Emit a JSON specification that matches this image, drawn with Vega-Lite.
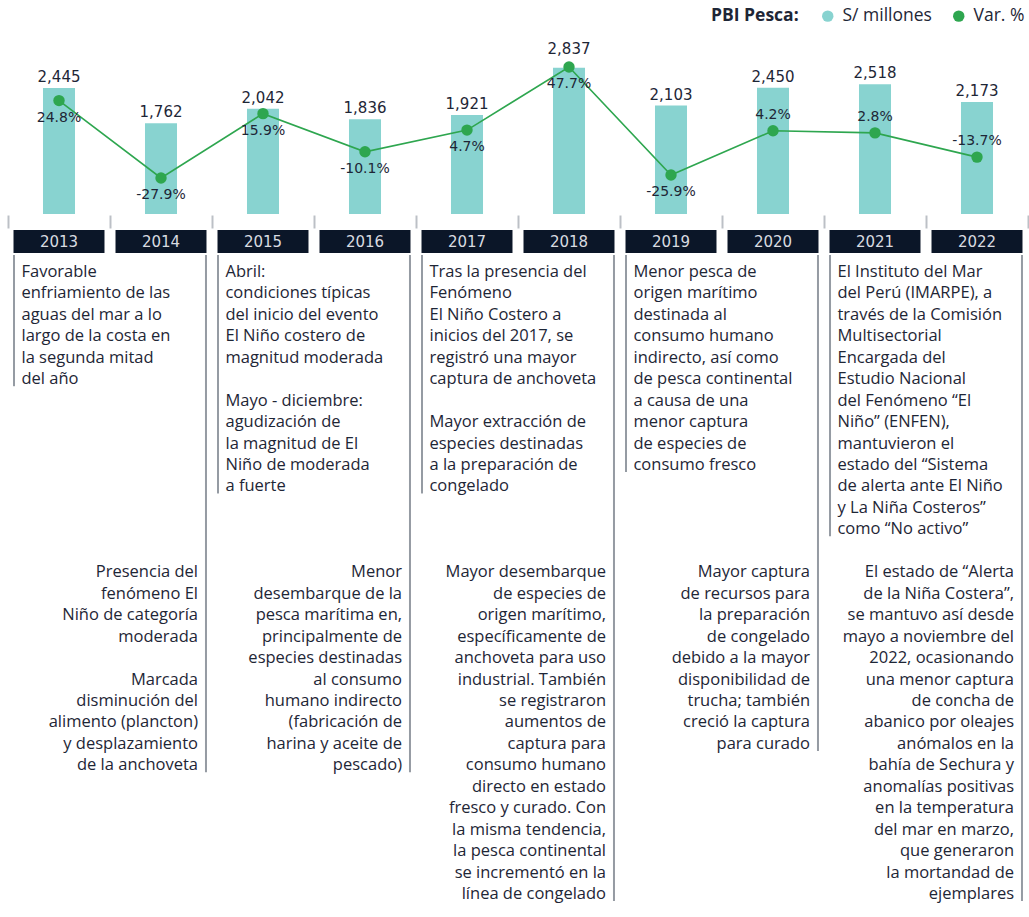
{
  "$schema": "https://vega.github.io/schema/vega-lite/v6.json",
  "padding": {"left": 7, "top": 0, "right": 0, "bottom": 0},
  "background": "white",
  "spacing": 1,
  "config": {"view": {"stroke": null}, "axis": {"grid": false}},
  "datasets": {
    "pbi": [
      {"year": "2013", "value": 2445, "pct": 24.8},
      {"year": "2014", "value": 1762, "pct": -27.9},
      {"year": "2015", "value": 2042, "pct": 15.9},
      {"year": "2016", "value": 1836, "pct": -10.1},
      {"year": "2017", "value": 1921, "pct": 4.7},
      {"year": "2018", "value": 2837, "pct": 47.7},
      {"year": "2019", "value": 2103, "pct": -25.9},
      {"year": "2020", "value": 2450, "pct": 4.2},
      {"year": "2021", "value": 2518, "pct": 2.8},
      {"year": "2022", "value": 2173, "pct": -13.7}
    ],
    "notes": [
      {"year": "2013", "block": "upper", "line": 0, "text": "Favorable"},
      {"year": "2013", "block": "upper", "line": 1, "text": "enfriamiento de las"},
      {"year": "2013", "block": "upper", "line": 2, "text": "aguas del mar a lo"},
      {"year": "2013", "block": "upper", "line": 3, "text": "largo de la costa en"},
      {"year": "2013", "block": "upper", "line": 4, "text": "la segunda mitad"},
      {"year": "2013", "block": "upper", "line": 5, "text": "del año"},
      {"year": "2014", "block": "lower", "line": 0, "text": "Presencia del"},
      {"year": "2014", "block": "lower", "line": 1, "text": "fenómeno El"},
      {"year": "2014", "block": "lower", "line": 2, "text": "Niño de categoría"},
      {"year": "2014", "block": "lower", "line": 3, "text": "moderada"},
      {"year": "2014", "block": "lower", "line": 5, "text": "Marcada"},
      {"year": "2014", "block": "lower", "line": 6, "text": "disminución del"},
      {"year": "2014", "block": "lower", "line": 7, "text": "alimento (plancton)"},
      {"year": "2014", "block": "lower", "line": 8, "text": "y desplazamiento"},
      {"year": "2014", "block": "lower", "line": 9, "text": "de la anchoveta"},
      {"year": "2015", "block": "upper", "line": 0, "text": "Abril:"},
      {"year": "2015", "block": "upper", "line": 1, "text": "condiciones típicas"},
      {"year": "2015", "block": "upper", "line": 2, "text": "del inicio del evento"},
      {"year": "2015", "block": "upper", "line": 3, "text": "El Niño costero de"},
      {"year": "2015", "block": "upper", "line": 4, "text": "magnitud moderada"},
      {"year": "2015", "block": "upper", "line": 6, "text": "Mayo - diciembre:"},
      {"year": "2015", "block": "upper", "line": 7, "text": "agudización de"},
      {"year": "2015", "block": "upper", "line": 8, "text": "la magnitud de El"},
      {"year": "2015", "block": "upper", "line": 9, "text": "Niño de moderada"},
      {"year": "2015", "block": "upper", "line": 10, "text": "a fuerte"},
      {"year": "2016", "block": "lower", "line": 0, "text": "Menor"},
      {"year": "2016", "block": "lower", "line": 1, "text": "desembarque de la"},
      {"year": "2016", "block": "lower", "line": 2, "text": "pesca marítima en,"},
      {"year": "2016", "block": "lower", "line": 3, "text": "principalmente de"},
      {"year": "2016", "block": "lower", "line": 4, "text": "especies destinadas"},
      {"year": "2016", "block": "lower", "line": 5, "text": "al consumo"},
      {"year": "2016", "block": "lower", "line": 6, "text": "humano indirecto"},
      {"year": "2016", "block": "lower", "line": 7, "text": "(fabricación de"},
      {"year": "2016", "block": "lower", "line": 8, "text": "harina y aceite de"},
      {"year": "2016", "block": "lower", "line": 9, "text": "pescado)"},
      {"year": "2017", "block": "upper", "line": 0, "text": "Tras la presencia del"},
      {"year": "2017", "block": "upper", "line": 1, "text": "Fenómeno"},
      {"year": "2017", "block": "upper", "line": 2, "text": "El Niño Costero a"},
      {"year": "2017", "block": "upper", "line": 3, "text": "inicios del 2017, se"},
      {"year": "2017", "block": "upper", "line": 4, "text": "registró una mayor"},
      {"year": "2017", "block": "upper", "line": 5, "text": "captura de anchoveta"},
      {"year": "2017", "block": "upper", "line": 7, "text": "Mayor extracción de"},
      {"year": "2017", "block": "upper", "line": 8, "text": "especies destinadas"},
      {"year": "2017", "block": "upper", "line": 9, "text": "a la preparación de"},
      {"year": "2017", "block": "upper", "line": 10, "text": "congelado"},
      {"year": "2018", "block": "lower", "line": 0, "text": "Mayor desembarque"},
      {"year": "2018", "block": "lower", "line": 1, "text": "de especies de"},
      {"year": "2018", "block": "lower", "line": 2, "text": "origen marítimo,"},
      {"year": "2018", "block": "lower", "line": 3, "text": "específicamente de"},
      {"year": "2018", "block": "lower", "line": 4, "text": "anchoveta para uso"},
      {"year": "2018", "block": "lower", "line": 5, "text": "industrial. También"},
      {"year": "2018", "block": "lower", "line": 6, "text": "se registraron"},
      {"year": "2018", "block": "lower", "line": 7, "text": "aumentos de"},
      {"year": "2018", "block": "lower", "line": 8, "text": "captura para"},
      {"year": "2018", "block": "lower", "line": 9, "text": "consumo humano"},
      {"year": "2018", "block": "lower", "line": 10, "text": "directo en estado"},
      {"year": "2018", "block": "lower", "line": 11, "text": "fresco y curado. Con"},
      {"year": "2018", "block": "lower", "line": 12, "text": "la misma tendencia,"},
      {"year": "2018", "block": "lower", "line": 13, "text": "la pesca continental"},
      {"year": "2018", "block": "lower", "line": 14, "text": "se incrementó en la"},
      {"year": "2018", "block": "lower", "line": 15, "text": "línea de congelado"},
      {"year": "2019", "block": "upper", "line": 0, "text": "Menor pesca de"},
      {"year": "2019", "block": "upper", "line": 1, "text": "origen marítimo"},
      {"year": "2019", "block": "upper", "line": 2, "text": "destinada al"},
      {"year": "2019", "block": "upper", "line": 3, "text": "consumo humano"},
      {"year": "2019", "block": "upper", "line": 4, "text": "indirecto, así como"},
      {"year": "2019", "block": "upper", "line": 5, "text": "de pesca continental"},
      {"year": "2019", "block": "upper", "line": 6, "text": "a causa de una"},
      {"year": "2019", "block": "upper", "line": 7, "text": "menor captura"},
      {"year": "2019", "block": "upper", "line": 8, "text": "de especies de"},
      {"year": "2019", "block": "upper", "line": 9, "text": "consumo fresco"},
      {"year": "2020", "block": "lower", "line": 0, "text": "Mayor captura"},
      {"year": "2020", "block": "lower", "line": 1, "text": "de recursos para"},
      {"year": "2020", "block": "lower", "line": 2, "text": "la preparación"},
      {"year": "2020", "block": "lower", "line": 3, "text": "de congelado"},
      {"year": "2020", "block": "lower", "line": 4, "text": "debido a la mayor"},
      {"year": "2020", "block": "lower", "line": 5, "text": "disponibilidad de"},
      {"year": "2020", "block": "lower", "line": 6, "text": "trucha; también"},
      {"year": "2020", "block": "lower", "line": 7, "text": "creció la captura"},
      {"year": "2020", "block": "lower", "line": 8, "text": "para curado"},
      {"year": "2021", "block": "upper", "line": 0, "text": "El Instituto del Mar"},
      {"year": "2021", "block": "upper", "line": 1, "text": "del Perú (IMARPE), a"},
      {"year": "2021", "block": "upper", "line": 2, "text": "través de la Comisión"},
      {"year": "2021", "block": "upper", "line": 3, "text": "Multisectorial"},
      {"year": "2021", "block": "upper", "line": 4, "text": "Encargada del"},
      {"year": "2021", "block": "upper", "line": 5, "text": "Estudio Nacional"},
      {"year": "2021", "block": "upper", "line": 6, "text": "del Fenómeno “El"},
      {"year": "2021", "block": "upper", "line": 7, "text": "Niño” (ENFEN),"},
      {"year": "2021", "block": "upper", "line": 8, "text": "mantuvieron el"},
      {"year": "2021", "block": "upper", "line": 9, "text": "estado del “Sistema"},
      {"year": "2021", "block": "upper", "line": 10, "text": "de alerta ante El Niño"},
      {"year": "2021", "block": "upper", "line": 11, "text": "y La Niña Costeros”"},
      {"year": "2021", "block": "upper", "line": 12, "text": "como “No activo”"},
      {"year": "2022", "block": "lower", "line": 0, "text": "El estado de “Alerta"},
      {"year": "2022", "block": "lower", "line": 1, "text": "de la Niña Costera”,"},
      {"year": "2022", "block": "lower", "line": 2, "text": "se mantuvo así desde"},
      {"year": "2022", "block": "lower", "line": 3, "text": "mayo a noviembre del"},
      {"year": "2022", "block": "lower", "line": 4, "text": "2022, ocasionando"},
      {"year": "2022", "block": "lower", "line": 5, "text": "una menor captura"},
      {"year": "2022", "block": "lower", "line": 6, "text": "de concha de"},
      {"year": "2022", "block": "lower", "line": 7, "text": "abanico por oleajes"},
      {"year": "2022", "block": "lower", "line": 8, "text": "anómalos en la"},
      {"year": "2022", "block": "lower", "line": 9, "text": "bahía de Sechura y"},
      {"year": "2022", "block": "lower", "line": 10, "text": "anomalías positivas"},
      {"year": "2022", "block": "lower", "line": 11, "text": "en la temperatura"},
      {"year": "2022", "block": "lower", "line": 12, "text": "del mar en marzo,"},
      {"year": "2022", "block": "lower", "line": 13, "text": "que generaron"},
      {"year": "2022", "block": "lower", "line": 14, "text": "la mortandad de"},
      {"year": "2022", "block": "lower", "line": 15, "text": "ejemplares"}
    ]
  },
  "vconcat": [
    {
      "width": 1020,
      "height": 214,
      "data": {"name": "pbi"},
      "transform": [{"calculate": "toString(datum.pct) + '%'", "as": "pctLabel"}],
      "encoding": {
        "x": {
          "field": "year", "type": "ordinal",
          "scale": {"type": "band", "paddingInner": 0, "paddingOuter": 0},
          "axis": {"title": null, "labels": false, "domain": false, "ticks": true, "tickBand": "extent", "tickSize": 13, "tickColor": "#bcc0c6", "tickWidth": 2, "offset": 1}
        }
      },
      "layer": [
        {
          "mark": {"type": "bar", "width": {"band": 0.314}},
          "encoding": {
            "y": {"field": "value", "type": "quantitative", "scale": {"domain": [0, 4150], "nice": false}, "axis": null},
            "color": {
              "datum": "S/ millones", "type": "nominal",
              "scale": {"domain": ["S/ millones", "Var. %"], "range": ["#88d3d0", "#2ea64f"]},
              "legend": {
                "title": "PBI Pesca:", "orient": "none", "legendX": 703, "legendY": 7, "direction": "horizontal", "titleOrient": "left",
                "symbolType": "circle", "symbolSize": 130, "symbolStrokeWidth": 0,
                "labelFont": "Open Sans", "labelFontSize": 17.5, "labelColor": "#1e2636", "labelOffset": 6,
                "titleFont": "Open Sans", "titleFontSize": 17.5, "titleFontWeight": "bold", "titleColor": "#1e2636",
                "titlePadding": 20, "columnPadding": 18, "padding": 0
              }
            }
          }
        },
        {
          "transform": [{"filter": "datum.year != '2018'"}],
          "mark": {"type": "text", "baseline": "bottom", "dy": -3, "font": "DejaVu Sans", "fontSize": 15, "color": "#1e2636"},
          "encoding": {
            "y": {"field": "value", "type": "quantitative", "scale": {"domain": [0, 4150], "nice": false}, "axis": null},
            "text": {"field": "value", "type": "quantitative", "format": ","}
          }
        },
        {
          "transform": [{"filter": "datum.year == '2018'"}],
          "mark": {"type": "text", "baseline": "bottom", "dy": -11, "font": "DejaVu Sans", "fontSize": 15, "color": "#1e2636"},
          "encoding": {
            "y": {"field": "value", "type": "quantitative", "scale": {"domain": [0, 4150], "nice": false}, "axis": null},
            "text": {"field": "value", "type": "quantitative", "format": ","}
          }
        },
        {
          "mark": {"type": "line", "color": "#2ea64f", "strokeWidth": 1.6},
          "encoding": {
            "y": {"field": "pct", "type": "quantitative", "scale": {"domain": [-52.45, 93.3], "nice": false, "zero": false}, "axis": null}
          }
        },
        {
          "mark": {"type": "point", "filled": true, "size": 130, "opacity": 1},
          "encoding": {
            "y": {"field": "pct", "type": "quantitative", "scale": {"domain": [-52.45, 93.3], "nice": false, "zero": false}, "axis": null},
            "color": {"datum": "Var. %", "type": "nominal"}
          }
        },
        {
          "transform": [{"filter": "toNumber(datum.year) <= 2019"}],
          "mark": {"type": "text", "baseline": "middle", "dy": 17, "font": "DejaVu Sans", "fontSize": 14, "color": "#1e2636"},
          "encoding": {
            "y": {"field": "pct", "type": "quantitative", "scale": {"domain": [-52.45, 93.3], "nice": false, "zero": false}, "axis": null},
            "text": {"field": "pctLabel", "type": "nominal"}
          }
        },
        {
          "transform": [{"filter": "toNumber(datum.year) >= 2020"}],
          "mark": {"type": "text", "baseline": "middle", "dy": -16, "font": "DejaVu Sans", "fontSize": 14, "color": "#1e2636"},
          "encoding": {
            "y": {"field": "pct", "type": "quantitative", "scale": {"domain": [-52.45, 93.3], "nice": false, "zero": false}, "axis": null},
            "text": {"field": "pctLabel", "type": "nominal"}
          }
        }
      ],
      "resolve": {"scale": {"y": "independent"}}
    },
    {
      "width": 1020,
      "height": 23,
      "data": {"name": "pbi"},
      "encoding": {
        "x": {"field": "year", "type": "ordinal", "scale": {"type": "band", "paddingInner": 0, "paddingOuter": 0}, "axis": null}
      },
      "layer": [
        {"mark": {"type": "bar", "width": {"band": 0.892}, "color": "#0b1628"}},
        {
          "mark": {"type": "text", "color": "#d9dbe0", "font": "DejaVu Sans", "fontSize": 15, "fontWeight": "normal", "baseline": "middle"},
          "encoding": {"text": {"field": "year", "type": "nominal"}}
        }
      ]
    },
    {
      "width": 1020,
      "height": 650,
      "data": {"name": "notes"},
      "encoding": {
        "x": {
          "field": "year", "type": "ordinal",
          "scale": {"type": "band", "paddingInner": 0, "paddingOuter": 0, "domain": ["2013","2014","2015","2016","2017","2018","2019","2020","2021","2022"]},
          "axis": null
        }
      },
      "layer": [
        {
          "transform": [{"filter": "datum.block == 'upper'"}],
          "mark": {"type": "rule", "color": "#959ba3", "strokeWidth": 2, "yOffset": 7},
          "encoding": {
            "x": {"field": "year", "type": "ordinal", "bandPosition": 0.059},
            "y": {"aggregate": "max", "field": "line", "type": "quantitative", "scale": {"domain": [-0.79, 29.51], "reverse": true, "nice": false, "zero": false}, "axis": null},
            "y2": {"datum": -0.79}
          }
        },
        {
          "transform": [{"filter": "datum.block == 'lower'"}],
          "mark": {"type": "rule", "color": "#959ba3", "strokeWidth": 2, "yOffset": 7},
          "encoding": {
            "x": {"field": "year", "type": "ordinal", "bandPosition": 0.941},
            "y": {"aggregate": "max", "field": "line", "type": "quantitative", "scale": {"domain": [-14.79, 15.51], "reverse": true, "nice": false, "zero": false}, "axis": null},
            "y2": {"datum": -14.79}
          }
        },
        {
          "transform": [{"filter": "datum.block == 'upper'"}],
          "mark": {"type": "text", "align": "left", "baseline": "middle", "font": "Open Sans", "fontSize": 16.5, "color": "#1e2636"},
          "encoding": {
            "x": {"field": "year", "type": "ordinal", "bandPosition": 0.132},
            "y": {"field": "line", "type": "quantitative", "scale": {"domain": [-0.79, 29.51], "reverse": true, "nice": false, "zero": false}, "axis": null},
            "text": {"field": "text", "type": "nominal"}
          }
        },
        {
          "transform": [{"filter": "datum.block == 'lower'"}],
          "mark": {"type": "text", "align": "right", "baseline": "middle", "font": "Open Sans", "fontSize": 16.5, "color": "#1e2636"},
          "encoding": {
            "x": {"field": "year", "type": "ordinal", "bandPosition": 0.863},
            "y": {"field": "line", "type": "quantitative", "scale": {"domain": [-14.79, 15.51], "reverse": true, "nice": false, "zero": false}, "axis": null},
            "text": {"field": "text", "type": "nominal"}
          }
        }
      ],
      "resolve": {"scale": {"y": "independent"}}
    }
  ]
}
